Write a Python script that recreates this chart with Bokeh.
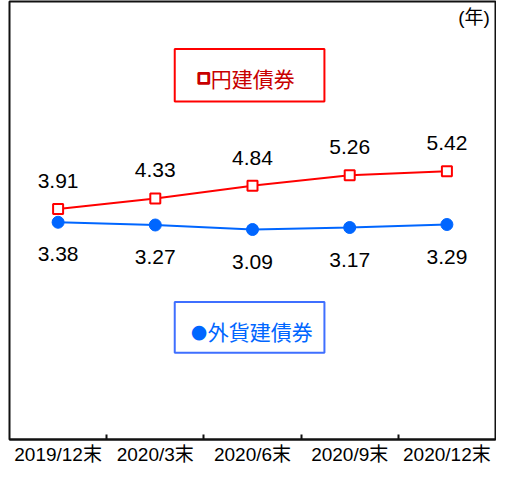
from bokeh.plotting import figure
from bokeh.models import Range1d, FixedTicker, ColumnDataSource, LabelSet, Label, BoxAnnotation
from bokeh.core.properties import value
from bokeh.embed import file_html
from bokeh.resources import INLINE

categories = ["2019/12末", "2020/3末", "2020/6末", "2020/9末", "2020/12末"]
yen_values = [3.91, 4.33, 4.84, 5.26, 5.42]
fx_values = [3.38, 3.27, 3.09, 3.17, 3.29]
yen_name = "円建債券"
fx_name = "外貨建債券"
unit_label = "(年)"

NUM_FONT = "Liberation Sans"
MIX_FONT = "Liberation Sans, Noto Sans CJK JP"
JP_FONT = "Noto Sans CJK JP"

RED = "#ff0000"
RED_TXT = "#c80000"
BLUE = "#0066ff"
BLUE_BOX = "#3f6fff"

xs = [i + 0.5 for i in range(len(categories))]

p = figure(width=496, height=467, output_backend="svg", toolbar_location=None,
           x_range=Range1d(0, 5), y_range=Range1d(-5.3, 12.2),
           y_axis_location=None, min_border_left=9, min_border_right=1,
           min_border_top=1, min_border_bottom=26)
p.background_fill_color = "white"
p.border_fill_color = "white"
p.outline_line_color = "#111111"
p.outline_line_width = 2
p.xgrid.visible = False
p.ygrid.visible = False

ax = p.xaxis[0]
ax.ticker = FixedTicker(ticks=xs, minor_ticks=[1, 2, 3, 4])
ax.major_label_overrides = {x: c for x, c in zip(xs, categories)}
ax.major_tick_in = 0
ax.major_tick_out = 0
ax.minor_tick_in = 5
ax.minor_tick_out = 0
ax.minor_tick_line_color = "#111111"
ax.minor_tick_line_width = 2
ax.axis_line_color = "#111111"
ax.axis_line_width = 2
ax.major_label_standoff = 4
ax.major_label_text_font = MIX_FONT
ax.major_label_text_font_size = "19px"
ax.major_label_text_color = "black"

src = ColumnDataSource(dict(x=xs, yen=yen_values, fx=fx_values,
                            yen_t=[f"{v:.2f}" for v in yen_values],
                            fx_t=[f"{v:.2f}" for v in fx_values]))

p.line("x", "fx", source=src, line_color=BLUE, line_width=2)
p.scatter("x", "fx", source=src, marker="circle", size=12, fill_color=BLUE, line_color=BLUE)
p.line("x", "yen", source=src, line_color=RED, line_width=2)
p.scatter("x", "yen", source=src, marker="square", size=10, fill_color="white",
          line_color=RED, line_width=2)

p.add_layout(LabelSet(x="x", y="yen", text="yen_t", source=src, y_offset=28,
                      text_align="center", text_baseline="middle",
                      text_font=value(NUM_FONT), text_font_size=value("21px"), text_color="black"))
p.add_layout(LabelSet(x="x", y="fx", text="fx_t", source=src, y_offset=-32,
                      text_align="center", text_baseline="middle",
                      text_font=value(NUM_FONT), text_font_size=value("21px"), text_color="black"))

# legend boxes
p.add_layout(BoxAnnotation(left=1.70, right=3.24, top=10.3, bottom=8.2,
                           fill_alpha=0, line_color=RED, line_alpha=1, line_width=2))
p.add_layout(BoxAnnotation(left=1.70, right=3.24, top=0.19, bottom=-1.83,
                           fill_alpha=0, line_color=BLUE_BOX, line_alpha=1, line_width=2))

p.add_layout(Label(x=2.0, y=9.2, text="□", text_align="center", text_baseline="middle",
                   text_font="DejaVu Sans", text_font_style="bold", text_font_size="14px",
                   text_color=RED_TXT, text_outline_color=RED_TXT))
p.add_layout(Label(x=2.07, y=9.16, text=yen_name, text_align="left", text_baseline="middle",
                   text_font=JP_FONT, text_font_size="21px", text_color=RED_TXT))
p.add_layout(Label(x=1.95, y=-0.95, text="●", text_align="center", text_baseline="middle",
                   text_font="DejaVu Sans", text_font_size="19px", text_color=BLUE))
p.add_layout(Label(x=2.04, y=-0.95, text=fx_name, text_align="left", text_baseline="middle",
                   text_font=JP_FONT, text_font_size="21px", text_color=BLUE))

p.add_layout(Label(x=4.78, y=11.55, text=unit_label, text_align="center", text_baseline="middle",
                   text_font=MIX_FONT, text_font_size="19px", text_color="black"))

open("out.html", "w").write(file_html(p, INLINE))
